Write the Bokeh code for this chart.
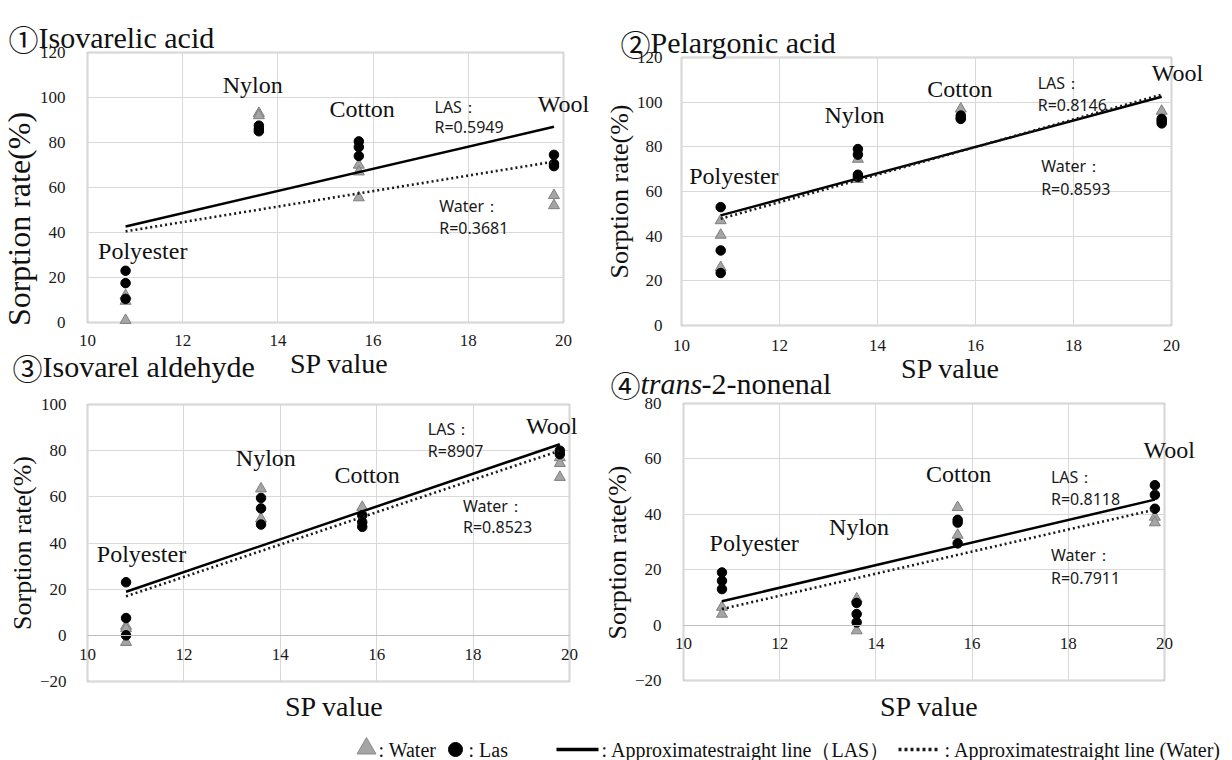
from bokeh.plotting import figure
from bokeh.models import Range1d, FixedTicker, Label
from bokeh.layouts import row, column
from bokeh.embed import file_html
from bokeh.resources import INLINE

# ---------------- data ----------------
FABRICS = ["Polyester", "Nylon", "Cotton", "Wool"]
SP_VALUES = [10.8, 13.6, 15.7, 19.8]
X_TICKS = [10, 12, 14, 16, 18, 20]

# (1) Isovarelic acid
P1_LAS = [[23, 17.5, 10.5], [87.5, 86, 85], [80.5, 78, 74], [74.5, 70.5, 69.5]]
P1_WATER = [[12, 9.5, 1], [93, 92], [70, 67, 55.5], [56.5, 52]]
P1_FIT_LAS = [42.7, 87.0]
P1_FIT_WATER = [40.5, 71.5]
P1_R = ["R=0.5949", "R=0.3681"]
P1_Y_TICKS = [0, 20, 40, 60, 80, 100, 120]

# (2) Pelargonic acid
P2_LAS = [[53, 33.6, 23.5], [79, 76.5, 67.5, 66.5], [94, 92.5, 93], [92.5, 91.5, 90.5]]
P2_WATER = [[47, 40.5, 26], [74.5, 65.5], [97], [96]]
P2_FIT_LAS = [49.3, 102.4]
P2_FIT_WATER = [47.8, 103.4]
P2_R = ["R=0.8146", "R=0.8593"]
P2_Y_TICKS = [0, 20, 40, 60, 80, 100, 120]

# (3) Isovarel aldehyde
P3_LAS = [[23, 7.5, 0], [59.5, 55, 48], [52, 49, 47], [80, 78.5]]
P3_WATER = [[4, 3, -3], [63.5, 50.5], [55.5], [77, 74.5, 68.5]]
P3_FIT_LAS = [18.9, 82.8]
P3_FIT_WATER = [16.9, 80.0]
P3_R = ["R=8907", "R=0.8523"]
P3_Y_TICKS = [-20, 0, 20, 40, 60, 80, 100]

# (4) trans-2-nonenal
P4_LAS = [[19, 16, 13], [8, 4, 1], [38, 37, 29.5], [50.5, 47, 42]]
P4_WATER = [[6.5, 4], [9.5, -2], [42.5, 32.5], [39, 37]]
P4_FIT_LAS = [8.6, 45.3]
P4_FIT_WATER = [5.8, 41.7]
P4_R = ["R=0.8118", "R=0.7911"]
P4_Y_TICKS = [-20, 0, 20, 40, 60, 80]

SERIF = "Liberation Serif"
CIRCLED = "Noto Sans CJK JP"
SANS = "Noto Sans"
TRI_FILL = "#a5a5a5"
TRI_LINE = "#7f7f7f"
GRID = "#d9d9d9"
BOX_LINE = "#a0a0a0"


def flatten(groups):
    xs, ys = [], []
    for sp, vals in zip(SP_VALUES, groups):
        xs += [sp] * len(vals)
        ys += list(vals)
    return xs, ys


def make_panel(width, height, box, y_ticks, las, water, fit_las, fit_water,
               r_texts, cfg, zero_axis_line):
    # box = pixel edges (left, right, top, bottom) of the plot area inside this canvas;
    # the frame spans the whole canvas so texts around the plot area are not clipped.
    L, R, T, B = box
    xs0, xs1 = X_TICKS[0], X_TICKS[-1]
    ys0, ys1 = y_ticks[0], y_ticks[-1]
    kx = (R - L) / (xs1 - xs0)
    ky = (B - T) / (ys1 - ys0)
    p = figure(width=width, height=height, output_backend="svg", toolbar_location=None,
               x_range=Range1d(xs0 - L / kx, xs0 + (width - L) / kx),
               y_range=Range1d(ys0 - (height - B) / ky, ys1 + T / ky),
               min_border_left=0, min_border_right=0, min_border_top=0, min_border_bottom=0)
    p.border_fill_alpha = 0
    p.background_fill_alpha = 0
    p.outline_line_color = None

    # white plot area
    p.quad(left=[xs0], right=[xs1], bottom=[ys0], top=[ys1], fill_color="white",
           line_color=None, level="image")

    # grids limited to the plot area
    p.xgrid.ticker = FixedTicker(ticks=X_TICKS)
    p.ygrid.ticker = FixedTicker(ticks=y_ticks)
    g = p.xgrid[0]
    if "cross_bounds" in g.properties():
        p.xgrid.cross_bounds = (ys0, ys1)
        p.ygrid.cross_bounds = (xs0, xs1)
        p.grid.grid_line_color = GRID
    else:
        p.grid.visible = False
        p.segment(x0=X_TICKS, x1=X_TICKS, y0=[ys0] * len(X_TICKS), y1=[ys1] * len(X_TICKS),
                  line_color=GRID, level="underlay")
        p.segment(x0=[xs0] * len(y_ticks), x1=[xs1] * len(y_ticks), y0=y_ticks, y1=y_ticks,
                  line_color=GRID, level="underlay")
    # plot-area border
    p.quad(left=[xs0], right=[xs1], bottom=[ys0], top=[ys1], fill_color=None,
           line_color=BOX_LINE, line_width=1.5, level="underlay")

    p.xaxis.ticker = FixedTicker(ticks=X_TICKS)
    p.yaxis.ticker = FixedTicker(ticks=y_ticks)
    p.xaxis.fixed_location = 0
    p.yaxis.fixed_location = xs0
    p.xaxis.bounds = (xs0, xs1)
    p.yaxis.bounds = (ys0 - cfg["ylabel_shift"], ys1)
    for ax in (p.xaxis, p.yaxis):
        ax.major_tick_out = 0
        ax.major_tick_in = 0
        ax.minor_tick_out = 0
        ax.minor_tick_in = 0
        ax.major_label_text_font = SERIF
        ax.major_label_text_font_size = "17px"
        ax.major_label_text_color = "#1a1a1a"
    p.yaxis.axis_line_color = None
    p.yaxis.major_label_standoff = cfg["ystandoff"]
    p.yaxis.axis_label = "Sorption rate(%)"
    p.yaxis.axis_label_text_font = SERIF
    p.yaxis.axis_label_text_font_size = cfg["ylabel_size"]
    p.yaxis.axis_label_text_font_style = "normal"
    p.yaxis.axis_label_text_color = "#111111"
    p.yaxis.axis_label_standoff = 0
    p.xaxis.major_label_standoff = cfg["xstandoff"]
    if zero_axis_line:
        p.xaxis.axis_line_color = "#bdbdbd"
        p.xaxis.axis_line_width = 1.2
    else:
        p.xaxis.axis_line_color = None

    wx, wy = flatten(water)
    lx, ly = flatten(las)
    p.scatter(wx, wy, marker="triangle", size=11, fill_color=TRI_FILL,
              line_color=TRI_LINE, line_width=1)
    p.scatter(lx, ly, marker="circle", size=9.5, fill_color="black", line_color="black")
    fx = [SP_VALUES[0], SP_VALUES[-1]]
    p.line(fx, fit_las, line_color="black", line_width=2.5)
    p.line(fx, fit_water, line_color="#1a1a1a", line_width=2.6, line_dash="2 3")

    for name, (x, y) in zip(FABRICS, cfg["fabric_pos"]):
        p.add_layout(Label(x=x, y=y, text=name, text_font=SERIF, text_font_size="24px",
                           text_align="center", text_baseline="middle", text_color="#111111"))
    sx, soff = cfg["sp_pos"]
    p.add_layout(Label(x=sx, y=ys0, y_offset=soff, text="SP value", text_font=SERIF,
                       text_font_size="28px", text_align="center", text_baseline="middle",
                       text_color="#111111"))
    for txt, xo, yo, style, font in cfg["title"]:
        p.add_layout(Label(x=xs0, y=ys1, x_offset=xo, y_offset=yo, text=txt,
                           text_font=font, text_font_size="30px", text_font_style=style,
                           text_align="left", text_baseline="alphabetic", text_color="#111111"))
    (lxp, ly1, ly2), (wxp, wy1, wy2) = cfg["r_pos"]
    for txt, x, y in (("LAS：", lxp, ly1), (r_texts[0], lxp, ly2),
                      ("Water：", wxp, wy1), (r_texts[1], wxp, wy2)):
        p.add_layout(Label(x=x, y=y, text=txt, text_font=SANS, text_font_size="16px",
                           text_align="left", text_baseline="middle", text_color="#1a1a1a"))
    return p


cfg1 = dict(ystandoff=22, xstandoff=12, ylabel_size="32px", ylabel_shift=29,
            fabric_pos=[(11.16, 31.9), (13.47, 105.6), (15.77, 94.8), (20.0, 97.0)],
            r_pos=[(17.29, 95.9, 87.0), (17.39, 51.9, 42.2)],
            sp_pos=(15.29, -41),
            title=[("①", -79, 15, "normal", CIRCLED),
                   ("Isovarelic acid", -49, 15, "normal", SERIF)])
cfg2 = dict(ystandoff=19, xstandoff=14, ylabel_size="26px", ylabel_shift=0,
            fabric_pos=[(11.07, 67.0), (13.53, 94.2), (15.68, 106.1), (20.12, 113.1)],
            r_pos=[(17.27, 108.7, 98.7), (17.34, 71.5, 61.3)],
            sp_pos=(15.49, -43),
            title=[("②", -61, 15, "normal", CIRCLED),
                   ("Pelargonic acid", -31, 15, "normal", SERIF)])
cfg3 = dict(ystandoff=21, xstandoff=14, ylabel_size="26px", ylabel_shift=0,
            fabric_pos=[(11.12, 35.2), (13.70, 76.9), (15.80, 69.6), (19.63, 90.9)],
            r_pos=[(17.06, 89.4, 80.0), (17.79, 56.2, 46.8)],
            sp_pos=(15.12, -25),
            title=[("③", -75, 38, "normal", CIRCLED),
                   ("Isovarel aldehyde", -45, 38, "normal", SERIF)])
cfg4 = dict(ystandoff=22, xstandoff=13, ylabel_size="26px", ylabel_shift=7.6,
            fabric_pos=[(11.47, 29.6), (13.65, 35.4), (15.72, 54.7), (20.10, 63.1)],
            r_pos=[(17.64, 53.5, 45.7), (17.64, 25.2, 17.1)],
            sp_pos=(15.11, -26),
            title=[("④", -73, 20, "normal", CIRCLED), ("trans", -43, 20, "italic", SERIF),
                   ("-2-nonenal", 18, 20, "normal", SERIF)])

f1 = make_panel(600, 385, (87, 563, 52, 322), P1_Y_TICKS, P1_LAS, P1_WATER,
                P1_FIT_LAS, P1_FIT_WATER, P1_R, cfg1, False)
f2 = make_panel(632, 385, (81, 571, 57, 325), P2_Y_TICKS, P2_LAS, P2_WATER,
                P2_FIT_LAS, P2_FIT_WATER, P2_R, cfg2, False)
f3 = make_panel(600, 382, (87, 569, 64, 341), P3_Y_TICKS, P3_LAS, P3_WATER,
                P3_FIT_LAS, P3_FIT_WATER, P3_R, cfg3, True)
f4 = make_panel(632, 382, (83, 564, 63, 340), P4_Y_TICKS, P4_LAS, P4_WATER,
                P4_FIT_LAS, P4_FIT_WATER, P4_R, cfg4, True)

# ---------------- legend strip ----------------
leg = figure(width=1232, height=38, output_backend="svg", toolbar_location=None,
             x_range=Range1d(0, 1232), y_range=Range1d(0, 38),
             min_border_left=0, min_border_right=0, min_border_top=0, min_border_bottom=0)
leg.axis.visible = False
leg.grid.visible = False
leg.outline_line_color = None
leg.border_fill_alpha = 0
leg.background_fill_alpha = 0
ly = 11
leg.scatter([366], [ly + 1], marker="triangle", size=19, fill_color=TRI_FILL, line_color="#8c8c8c")
leg.scatter([455], [ly], marker="circle", size=14, fill_color="black", line_color="black")
leg.line([556, 598], [ly, ly], line_color="black", line_width=3.5)
leg.line([898, 938], [ly, ly], line_color="#1a1a1a", line_width=3.5, line_dash="3 3")
for txt, x in ((": Water", 378), (": Las", 468),
               (": Approximatestraight line（LAS）", 601),
               (": Approximatestraight line (Water)", 944)):
    leg.add_layout(Label(x=x, y=ly, text=txt, text_font=SERIF, text_font_size="20px",
                         text_align="left", text_baseline="middle", text_color="#111111"))

top_row = row(f1, f2)
bottom_row = row(f3, f4, margin=(-45, 0, 0, 0))
layout = column(top_row, bottom_row, leg)

open("out.html", "w").write(file_html(layout, INLINE))
